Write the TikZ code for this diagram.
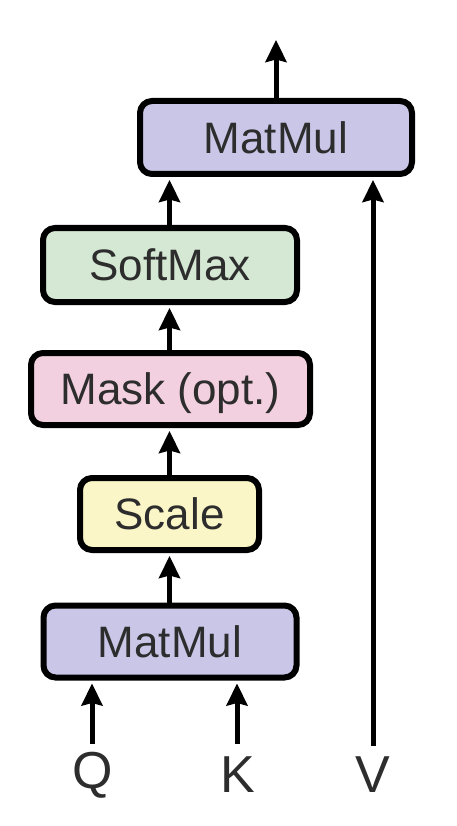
\documentclass[tikz,border=0pt]{standalone}
\usepackage{fontspec}
\setmainfont{Liberation Sans}
\usetikzlibrary{arrows.meta}
\definecolor{matcol}{RGB}{201,198,232}
\definecolor{softcol}{RGB}{213,232,212}
\definecolor{maskcol}{RGB}{242,208,223}
\definecolor{scalecol}{RGB}{251,246,200}
\definecolor{txtcol}{RGB}{45,45,45}
\tikzset{
  opbox/.style={draw=black, line width=6pt, rounded corners=12pt, inner sep=0pt,
    text=txtcol, font=\fontsize{44}{50}\selectfont, text depth=0pt, anchor=center},
  flow/.style={line width=5pt, -{Stealth[length=22pt,width=21pt,inset=2.5pt]}, shorten >=3pt},
  inlabel/.style={text=txtcol, font=\fontsize{52}{58}\selectfont, inner sep=0pt}
}
\begin{document}
\begin{tikzpicture}[x=1pt,y=-1pt]
\useasboundingbox[fill=white] (0,0) rectangle (456,826);
\node[opbox, fill=matcol, minimum width=272pt, minimum height=73pt] (mm2) at (276,137.5) {MatMul};
\node[opbox, fill=softcol, minimum width=254pt, minimum height=74pt] (sm) at (170,265) {SoftMax};
\node[opbox, fill=maskcol, minimum width=279pt, minimum height=72pt] (mask) at (170.5,389) {Mask (opt.)};
\node[opbox, fill=scalecol, minimum width=179pt, minimum height=72pt] (sc) at (169.5,514) {Scale};
\node[opbox, fill=matcol, minimum width=253pt, minimum height=72pt] (mm1) at (170,641.5) {MatMul};
\node[inlabel] (q) at (93,775) {Q};
\node[inlabel] (k) at (238,775) {K};
\node[inlabel] (v) at (373,775) {V};
\coordinate (out) at (276,40);
\coordinate (qs) at (92,744);
\coordinate (ks) at (237,744);
\coordinate (vs) at (373,746);
\draw[flow] (qs) -- (qs |- mm1.south);
\draw[flow] (ks) -- (ks |- mm1.south);
\draw[flow] (mm1.north -| sc.south) -- (sc.south);
\draw[flow] (sc.north) -- (mask.south -| sc.north);
\draw[flow] (mask.north -| sc.north) -- (sm.south -| sc.north);
\draw[flow] (sm.north -| sc.north) -- (mm2.south -| sc.north);
\draw[flow] (vs) -- (vs |- mm2.south);
\draw[flow, shorten >=0pt] (mm2.north) -- (out);
\end{tikzpicture}
\end{document}
